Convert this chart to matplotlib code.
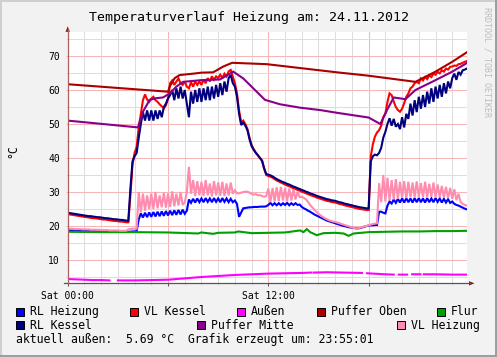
import numpy as np
import matplotlib
matplotlib.use("Agg")
import matplotlib.pyplot as plt
from matplotlib.lines import Line2D
from matplotlib.patches import Polygon, Rectangle

W, H = 497, 357  # output size in pixels
MONO = "DejaVu Sans Mono"

# ---- data: hours since Sat 00:00, temperatures in °C ----
# 8 samples per hour (one row = one hour)
rl_kessel = [
    23.9, 23.8, 23.7, 23.6, 23.5, 23.4, 23.3, 23.2,
    23.1, 23.0, 22.9, 22.9, 22.8, 22.7, 22.6, 22.6,
    22.5, 22.4, 22.3, 22.3, 22.2, 22.1, 22.0, 22.0,
    21.9, 21.8, 21.8, 21.7, 21.6, 21.5, 31.0, 39.0,
    40.5, 41.5, 46.0, 50.0, 53.5, 51.0, 54.0, 51.0,
    54.0, 51.0, 54.0, 51.5, 54.0, 52.0, 55.0, 56.0,
    57.5, 58.5, 60.0, 57.0, 60.5, 57.5, 61.0, 57.5,
    60.0, 56.0, 52.0, 59.5, 56.0, 60.0, 56.5, 60.5,
    56.5, 60.5, 57.0, 61.0, 57.0, 61.0, 57.5, 61.5,
    58.0, 62.0, 58.5, 62.5, 59.5, 63.5, 64.4, 62.0,
    61.0, 58.0, 53.0, 49.7, 50.4, 49.5, 48.2, 45.5,
    43.5, 42.4, 41.5, 40.8, 40.0, 39.2, 37.0, 35.3,
    35.1, 34.9, 34.6, 34.2, 33.8, 33.5, 33.2, 32.9,
    32.7, 32.4, 32.2, 31.9, 31.6, 31.4, 31.1, 30.9,
    30.6, 30.4, 30.1, 29.9, 29.6, 29.4, 29.2, 28.9,
    28.7, 28.5, 28.3, 28.1, 27.9, 27.8, 27.6, 27.5,
    27.4, 27.2, 27.0, 26.9, 26.7, 26.5, 26.4, 26.2,
    26.1, 25.9, 25.8, 25.6, 25.5, 25.4, 25.3, 25.2,
    25.2, 39.0, 40.5, 41.0, 40.8, 41.5, 43.0, 46.0,
    47.7, 50.0, 51.7, 49.5, 51.5, 49.2, 50.0, 48.5,
    52.0, 49.0, 53.0, 51.5, 56.0, 52.5, 57.0, 53.5,
    58.0, 54.5, 58.5, 55.0, 59.5, 56.0, 60.5, 56.5,
    61.0, 57.5, 61.5, 58.0, 62.0, 59.0, 62.5, 60.5,
    63.5, 64.8, 63.0, 65.3, 64.5, 65.8, 66.0, 66.3,
    66.5,
]
vl_kessel = [
    23.5, 23.4, 23.3, 23.2, 23.1, 23.0, 22.9, 22.8,
    22.7, 22.6, 22.5, 22.4, 22.3, 22.3, 22.2, 22.1,
    22.0, 21.9, 21.9, 21.8, 21.7, 21.6, 21.5, 21.5,
    21.4, 21.3, 21.3, 21.2, 21.1, 21.1, 29.0, 38.0,
    41.5, 43.3, 49.0, 53.0, 57.0, 58.7, 57.2, 56.5,
    57.5, 58.0, 57.0, 56.5, 55.8, 55.2, 54.6, 55.5,
    57.5, 62.0, 62.8, 61.5, 62.5, 63.4, 62.0, 61.5,
    62.5, 61.0, 60.5, 62.3, 61.0, 62.5, 61.5, 62.5,
    61.5, 63.0, 62.0, 63.5, 62.5, 64.0, 63.0, 64.0,
    63.5, 64.5, 63.5, 64.8, 64.0, 65.5, 65.9, 64.0,
    62.0, 59.0, 54.0, 50.5, 51.0, 50.0, 48.5, 46.0,
    43.8, 42.6, 41.6, 40.8, 40.0, 39.2, 36.8, 35.0,
    34.7, 34.5, 34.2, 33.8, 33.4, 33.1, 32.8, 32.5,
    32.2, 31.9, 31.7, 31.4, 31.1, 30.9, 30.6, 30.4,
    30.1, 29.9, 29.6, 29.4, 29.1, 28.9, 28.7, 28.4,
    28.2, 28.0, 27.8, 27.6, 27.4, 27.3, 27.1, 27.0,
    26.9, 26.7, 26.5, 26.4, 26.2, 26.0, 25.9, 25.7,
    25.6, 25.4, 25.3, 25.1, 25.0, 24.9, 24.8, 24.7,
    24.7, 40.4, 44.0, 46.3, 47.5, 48.2, 49.5, 52.0,
    53.1, 56.5, 59.0, 58.5, 56.6, 55.0, 54.1, 53.6,
    54.5, 56.1, 58.0, 59.0, 60.5, 61.0, 62.0, 62.4,
    62.0, 63.4, 62.8, 63.8, 63.2, 64.3, 63.8, 64.8,
    64.5, 65.3, 64.9, 65.8, 65.4, 66.3, 66.0, 66.8,
    66.9, 67.2, 67.1, 67.6, 67.7, 68.0, 68.3, 68.5,
    68.6,
]
rl_heizung = [
    18.7, 18.7, 18.7, 18.7, 18.6, 18.6, 18.6, 18.6,
    18.6, 18.5, 18.5, 18.5, 18.5, 18.5, 18.4, 18.4,
    18.4, 18.4, 18.4, 18.4, 18.3, 18.3, 18.3, 18.3,
    18.3, 18.3, 18.3, 18.3, 18.3, 18.3, 18.3, 18.4,
    18.4, 18.5, 22.0, 23.7, 22.5, 23.9, 22.6, 24.0,
    22.7, 24.1, 22.8, 24.2, 22.9, 24.3, 23.0, 24.4,
    23.1, 24.5, 23.2, 24.6, 23.3, 24.7, 23.4, 24.8,
    23.6, 24.5, 27.8, 26.8, 28.0, 26.9, 28.1, 27.0,
    28.1, 27.0, 28.2, 27.1, 28.1, 27.0, 28.2, 27.1,
    28.1, 27.0, 28.2, 27.1, 28.1, 27.0, 28.0, 27.0,
    27.5, 26.5, 22.7, 24.0, 25.2, 25.3, 25.4, 25.5,
    25.5, 25.6, 25.6, 25.6, 25.7, 25.7, 25.7, 25.8,
    26.2, 26.8, 26.1, 26.7, 26.1, 26.7, 26.1, 26.7,
    26.2, 26.8, 26.1, 26.7, 26.2, 26.7, 26.2, 26.3,
    25.6, 25.2, 24.9, 24.5, 24.2, 23.8, 23.4, 23.1,
    22.8, 22.5, 22.2, 21.9, 21.6, 21.4, 21.2, 21.0,
    20.8, 20.6, 20.4, 20.2, 20.0, 19.9, 19.7, 19.6,
    19.5, 19.4, 19.3, 19.3, 19.4, 19.6, 19.8, 20.0,
    20.1, 20.2, 20.2, 20.3, 20.3, 24.2, 24.2, 23.9,
    23.7, 26.0, 27.2, 26.6, 27.8, 26.8, 28.0, 26.9,
    28.1, 26.9, 28.2, 27.0, 28.1, 26.9, 28.2, 27.0,
    28.2, 27.0, 28.1, 26.9, 28.2, 27.0, 28.1, 27.0,
    28.2, 27.1, 28.1, 26.9, 28.0, 26.9, 27.9, 26.8,
    27.2, 26.5, 26.2, 26.0, 25.7, 25.4, 25.1, 24.9,
    24.7,
]
vl_heizung = [
    19.2, 19.2, 19.2, 19.1, 19.1, 19.1, 19.1, 19.0,
    19.0, 19.0, 19.0, 18.9, 18.9, 18.9, 18.9, 18.9,
    18.8, 18.8, 18.8, 18.8, 18.7, 18.7, 18.7, 18.7,
    18.7, 18.6, 18.6, 18.6, 18.6, 19.0, 19.1, 19.2,
    19.2, 19.2, 30.0, 24.0, 29.5, 24.5, 29.0, 25.0,
    29.5, 25.0, 30.0, 25.2, 29.0, 25.5, 29.8, 25.4,
    29.6, 25.6, 30.2, 25.8, 29.5, 26.0, 30.0, 26.2,
    27.0, 30.0, 37.4, 29.5, 33.5, 28.8, 33.2, 29.0,
    33.0, 28.8, 33.5, 29.0, 32.5, 28.7, 33.2, 29.0,
    32.8, 28.9, 33.0, 28.8, 32.5, 29.0, 32.8, 29.5,
    30.5, 29.6, 29.6, 29.8, 30.0, 30.1, 30.1, 29.8,
    29.5, 29.2, 29.4, 29.0, 29.1, 28.8, 28.6, 28.8,
    31.0, 27.0, 31.2, 27.2, 31.4, 27.3, 31.5, 27.5,
    31.2, 27.4, 31.0, 27.5, 30.8, 27.8, 30.0, 28.5,
    28.6, 28.3, 27.8, 27.1, 26.2, 25.5, 24.8, 24.2,
    23.6, 23.1, 22.7, 22.3, 22.0, 21.7, 21.5, 21.3,
    21.2, 21.0, 20.8, 20.6, 20.4, 20.2, 20.0, 19.8,
    19.6, 19.4, 19.3, 19.3, 19.5, 19.7, 19.9, 20.0,
    20.2, 20.4, 20.6, 20.7, 20.8, 32.6, 27.0, 35.0,
    27.2, 34.2, 27.5, 33.5, 27.8, 33.8, 28.0, 33.0,
    28.3, 33.2, 28.2, 33.0, 28.4, 32.8, 28.5, 33.1,
    28.6, 32.6, 28.4, 33.0, 28.5, 32.4, 28.6, 32.8,
    28.5, 32.2, 28.4, 31.8, 28.3, 31.5, 28.2, 31.2,
    28.0, 30.8, 27.6, 29.5, 27.0, 26.5, 26.2, 26.0,
    25.8,
]
hours = np.arange(len(rl_kessel)) / 8.0

# slow series, read at breakpoints
po_t = [0, 6.0, 6.1, 6.4, 6.7, 7.5, 8.0, 8.7, 9.3, 9.84, 11.9, 14.0, 16.1,
        18.0, 20.8, 21.2, 22.0, 23.0, 24.0]
po_v = [61.7, 59.5, 61.0, 63.5, 64.4, 64.8, 65.1, 65.2, 66.9, 68.0, 67.6, 66.4,
        65.2, 64.2, 62.4, 63.4, 65.4, 68.3, 71.5]

pm_t = [0, 4.2, 4.5, 4.9, 5.3, 5.7, 6.1, 6.5, 6.9, 8.0, 9.1, 9.6, 9.9, 10.5,
        11.2, 11.8, 12.7, 13.9, 15.1, 16.1, 18.0, 18.7, 19.1, 19.5, 20.2, 20.8,
        22.0, 23.0, 24.0]
pm_v = [51.0, 49.0, 53.6, 57.1, 57.6, 57.8, 59.0, 61.0, 62.4, 62.9, 63.1, 64.5,
        65.4, 63.4, 60.0, 57.1, 55.8, 54.8, 54.1, 53.3, 51.9, 50.0, 54.1, 57.8,
        57.3, 60.0, 62.9, 65.4, 68.3]

flur_t = [0, 2, 4, 6, 7.8, 8, 8.7, 9, 10, 10.2, 11, 12, 13, 13.9, 14.1, 14.3,
          14.5, 14.9, 15.3, 16, 16.5, 16.8, 17.1, 18, 19, 20, 21, 22, 23, 24]
flur_v = [18.3, 18.2, 18.2, 18.1, 17.8, 18.1, 17.7, 18.0, 18.1, 18.4, 17.9,
          18.0, 18.1, 18.7, 18.2, 19.1, 18.2, 17.3, 17.9, 18.0, 17.8, 17.1,
          17.8, 18.2, 18.3, 18.4, 18.4, 18.5, 18.5, 18.6]

nan = np.nan
aussen_t = [0, 0.5, 1.0, 1.5, 2.0, 2.5, 2.6, 3.0, 4.0, 5.0, 6.0, 7.0, 8.0, 9.0,
            10.0, 11.0, 12.0, 13.0, 14.0, 14.55, 14.6, 14.7, 15.5, 16.5, 17.6,
            17.7, 17.9, 19.0, 19.5, 19.6, 19.8, 20.3, 20.4, 20.6, 21.1, 21.2,
            21.3, 22.0, 23.0, 24.0]
aussen_v = [4.4, 4.3, 4.2, 4.1, 4.1, 4.0, nan, 4.0, 4.0, 4.1, 4.2, 4.6, 5.0, 5.3,
            5.6, 5.8, 6.0, 6.1, 6.2, 6.3, nan, 6.3, 6.4, 6.3, 6.2, nan, 6.1, 5.8,
            5.7, nan, 5.7, 5.7, nan, 5.8, 5.8, nan, 5.8, 5.8, 5.7, 5.7]

# drawing order = legend order (last one on top)
series = [
    ("RL Heizung", hours, rl_heizung, "#0000FF"),
    ("VL Kessel", hours, vl_kessel, "#FF0000"),
    ("Außen", aussen_t, aussen_v, "#FF00FF"),
    ("Puffer Oben", po_t, po_v, "#AA0000"),
    ("Flur", flur_t, flur_v, "#00A000"),
    ("RL Kessel", hours, rl_kessel, "#000080"),
    ("Puffer Mitte", pm_t, pm_v, "#880088"),
    ("VL Heizung", hours, vl_heizung, "#FF8CAF"),
]
# legend slots: (box left px, row)
legend_pos = [(16, 0), (130, 0), (237, 0), (316.7, 0), (437, 0),
              (16, 1), (196.7, 1), (397, 1)]


def fx(x):
    return x / W


def fy(y):
    return 1 - y / H


fig = plt.figure(figsize=(W / 100, H / 100), dpi=100, facecolor="#F2F2F2")

# 3d-ish frame
fig.add_artist(Rectangle((0, fy(2)), 1, 2 / H, transform=fig.transFigure, color="#CFCFCF", lw=0))
fig.add_artist(Rectangle((0, 0), 2 / W, 1, transform=fig.transFigure, color="#CFCFCF", lw=0))
fig.add_artist(Rectangle((0, 0), 1, 2 / H, transform=fig.transFigure, color="#9E9E9E", lw=0))
fig.add_artist(Rectangle((fx(W - 2), 0), 2 / W, 1, transform=fig.transFigure, color="#9E9E9E", lw=0))

x0, x1, y0, y1 = 67.7, 467.3, 283.3, 32.3
ax = fig.add_axes([fx(x0), fy(y0), (x1 - x0) / W, (y0 - y1) / H])
ax.set_facecolor("white")
ax.set_xlim(0, 23.9)
ax.set_ylim(3.15, 76.97)

for name, t, v, c in series:
    ax.plot(t, v, color=c, lw=1.5, solid_joinstyle="miter")

grid_minor = "#DDDDDD"
grid_major = "#F4B6B6"
ax.set_xticks([0, 6, 12, 18])
ax.set_xticklabels(["Sat 00:00", "", "Sat 12:00", ""])
ax.set_xticks(np.arange(0, 24, 1), minor=True)
ax.set_yticks(range(10, 80, 10))
ax.set_yticks(range(5, 80, 5), minor=True)
ax.grid(which="major", color=grid_major, lw=0.75)
ax.grid(which="minor", color=grid_minor, lw=0.75)
ax.set_axisbelow(True)
ax.tick_params(which="both", direction="out", length=1.6, width=0.75)
ax.tick_params(axis="y", which="major", colors=grid_major, labelcolor="black",
               labelsize=7, pad=4)
ax.tick_params(axis="y", which="minor", colors=grid_minor)
ax.tick_params(axis="x", which="major", colors="#555555", labelcolor="black",
               labelsize=7, pad=3, length=2.5)
ax.tick_params(axis="x", which="minor", colors=grid_minor)
for lab in ax.get_xticklabels() + ax.get_yticklabels():
    lab.set_family(MONO)
for s in ax.spines.values():
    s.set_visible(False)

# axes with arrows
fig.add_artist(Line2D([fx(64), fx(470)], [fy(y0), fy(y0)], transform=fig.transFigure,
                      color="#555555", lw=0.9))
fig.add_artist(Line2D([fx(x0), fx(x0)], [fy(y0), fy(29)], transform=fig.transFigure,
                      color="#B06060", lw=0.9))
fig.add_artist(Polygon([(fx(469), fy(281.2)), (fx(469), fy(285.6)), (fx(474.5), fy(y0))],
                       closed=True, transform=fig.transFigure, color="#801F1F", lw=0))
fig.add_artist(Polygon([(fx(65.5), fy(31.8)), (fx(69.9), fy(31.8)), (fx(x0), fy(26.3))],
                       closed=True, transform=fig.transFigure, color="#801F1F", lw=0))

# texts
fig.text(fx(249), fy(21.5), "Temperaturverlauf Heizung am: 24.11.2012",
         family=MONO, fontsize=9.5, ha="center", va="baseline")
fig.text(fx(13), fy(151), "°C", family=MONO, fontsize=8.3, rotation=90,
         ha="center", va="center")
fig.text(fx(487.5), fy(7), "RRDTOOL / TOBI OETIKER", family=MONO, fontsize=6,
         color="#BDBDBD", rotation=270, ha="center", va="top")

row_box_top = [307.5, 321.0]
row_base = [315.3, 328.7]
for (name, t, v, c), (bx, row) in zip(series, legend_pos):
    fig.add_artist(Rectangle((fx(bx), fy(row_box_top[row] + 8.3)), 8.3 / W, 8.3 / H,
                             transform=fig.transFigure, facecolor=c,
                             edgecolor="black", lw=0.7))
    fig.text(fx(bx + 14), fy(row_base[row]), name, family=MONO, fontsize=8.3,
             va="baseline")

fig.text(fx(16), fy(343), "aktuell außen:  5.69 °C  Grafik erzeugt um: 23:55:01",
         family=MONO, fontsize=8.3, va="baseline")

fig.savefig("out.png", dpi=100, facecolor=fig.get_facecolor())
